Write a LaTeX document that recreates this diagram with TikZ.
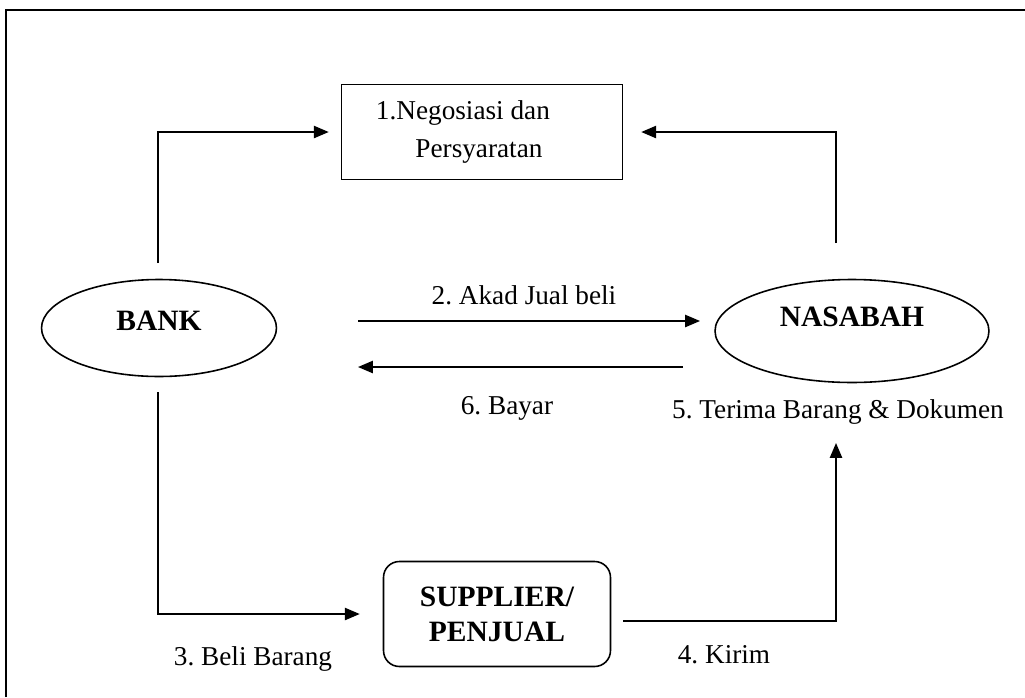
\documentclass[tikz,border=0pt]{standalone}
\usepackage{fontspec}
\setmainfont{Liberation Serif}
\usetikzlibrary{shapes.geometric,arrows.meta}
\frenchspacing

\begin{document}
\begin{tikzpicture}
[x=0.02cm,y=-0.02cm,font=\fontsize{15.5}{20}\selectfont]
\tikzset{ell/.style={ellipse,draw,line width=0.9pt,font=\fontsize{16.8}{20}\selectfont\bfseries}}
\tikzset{box/.style={draw,line width=0.9pt,minimum width=5.62cm,minimum height=1.9cm,align=left}}
\tikzset{rbox/.style={draw,line width=0.9pt,rounded corners=9pt,minimum width=4.54cm,minimum height=2.1cm,align=center,font=\fontsize{16.8}{20}\selectfont\bfseries}}
\tikzset{arr/.style={line width=0.9pt,-{Triangle[length=8.5pt,width=7pt]}}}
\useasboundingbox (0,0) rectangle (1025,697);
\draw [line width=1.2pt] (6,697) -- (6,10) -- (1025,10);

\node [box,font=\fontsize{15.5}{21.5}\selectfont] (nego) at (482,132) {1.Negosiasi dan\hspace*{1.4em}\\\hspace*{1.45em}Persyaratan};
\node [ell,minimum width=4.7cm,minimum height=1.94cm,text depth=8pt] (bank) at (159,328) {BANK};
\node [ell,minimum width=5.48cm,minimum height=2.06cm,text depth=16pt] (nas) at (852,331) {NASABAH};
\node [rbox] (sup) at (497,614) {SUPPLIER/\\PENJUAL};

\coordinate (b1) at (158,263);
\coordinate (b2) at (158,392);
\coordinate (n1) at (836,243);
\coordinate (n2) at (836,443);
\coordinate (s1) at (623,621);
\coordinate (a1) at (358,321);
\coordinate (a2) at (700,321);
\coordinate (c1) at (683,367);
\coordinate (c2) at (358,367);

\node (akad) at (524,295) {2. Akad Jual beli};
\node (bayar) at (507,408) {6. Bayar};
\node (beli) at (253,659) {3. Beli Barang};
\node (kirim) at (724,655) {4. Kirim};
\node (terima) at (838,412) {5. Terima Barang \& Dokumen};

\draw [arr,shorten >=0.24cm] (b1) |- (nego.west);
\draw [arr,shorten >=0.36cm] (n1) |- (nego.east);
\draw [arr,shorten >=0.46cm] (b2) |- (sup.west);
\draw [arr] (s1) -| (n2);
\foreach \from/\to in {a1/a2,c1/c2}
	\draw [arr] (\from) -- (\to);
\end{tikzpicture}
\end{document}
